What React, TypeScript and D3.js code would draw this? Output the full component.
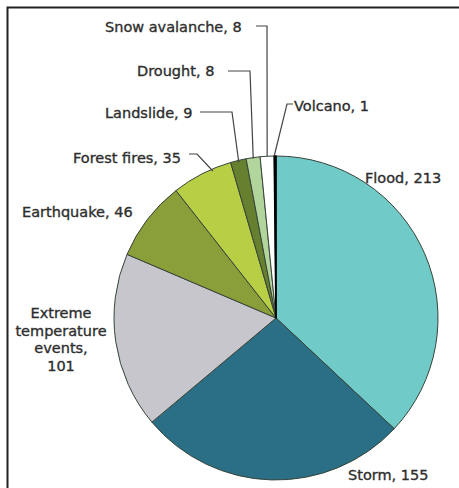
import React from "react";
import * as d3 from "d3";

const categories = ["Flood", "Storm", "Extreme temperature events", "Earthquake", "Forest fires", "Landslide", "Drought", "Snow avalanche", "Volcano"];
const values = [213, 155, 101, 46, 35, 9, 8, 8, 1];
const colors = ["#70cac8", "#2a6f85", "#c6c6cc", "#8a9e3a", "#b8cf45", "#66802f", "#b2d59b", "#ffffff", "#111111"];

// label layout: text lines, anchor position, leader line (elbow points) and slice attach fraction
type Lbl = { lines: string[]; x: number; y: number; anchor: string; leader?: { pts: [number, number][]; frac: number; r: number } };
const labelLayout: Lbl[] = [
  { lines: ["Flood, 213"], x: 365, y: 178, anchor: "start" },
  { lines: ["Storm, 155"], x: 348, y: 475, anchor: "start" },
  { lines: ["Extreme", "temperature", "events,", "101"], x: 61, y: 313, anchor: "middle" },
  { lines: ["Earthquake, 46"], x: 22, y: 212, anchor: "start" },
  { lines: ["Forest fires, 35"], x: 73, y: 158, anchor: "start", leader: { pts: [[189, 154], [197, 154]], frac: 0.68, r: 160 } },
  { lines: ["Landslide, 9"], x: 105, y: 113, anchor: "start", leader: { pts: [[200, 112], [232, 112]], frac: 0.5, r: 160 } },
  { lines: ["Drought, 8"], x: 137, y: 71, anchor: "start", leader: { pts: [[228, 71], [250, 71]], frac: 0.5, r: 161 } },
  { lines: ["Snow avalanche, 8"], x: 105, y: 27, anchor: "start", leader: { pts: [[256, 26], [267, 26]], frac: 0.5, r: 162 } },
  { lines: ["Volcano, 1"], x: 294, y: 106, anchor: "start", leader: { pts: [[293, 104], [287, 104]], frac: 0.0, r: 162 } },
];

const W = 459;
const H = 488;
const cx = 276;
const cy = 318;
const R = 162;

export default function App() {
  const pie = d3.pie<number>().sort(null).value((d) => d);
  const arcs = pie(values);
  const arc = d3.arc<d3.PieArcDatum<number>>().innerRadius(0).outerRadius(R);

  return (
    <svg width={W} height={H} style={{ position: "absolute", left: 0, top: 0 }} fontFamily="DejaVu Sans" fontSize={14.5}>
      <rect x={0} y={0} width={W} height={H} fill="#fff" />
      <path d={`M7.5,${H} V7.5 H${W}`} fill="none" stroke="#222" strokeWidth={2} />
      <g transform={`translate(${cx},${cy})`}>
        {arcs.map((a, i) => (
          <path key={i} d={arc(a) || ""} fill={colors[i]} stroke={i === 8 ? "#000" : "#37443a"} strokeWidth={i === 8 ? 1.6 : 1} strokeLinejoin="round" />
        ))}
      </g>
      {labelLayout.map((l, i) => {
        let leader = null;
        if (l.leader) {
          const a = arcs[i];
          const ang = a.startAngle + (a.endAngle - a.startAngle) * l.leader.frac;
          const ex = cx + l.leader.r * Math.sin(ang);
          const ey = cy - l.leader.r * Math.cos(ang);
          const pts = [...l.leader.pts, [ex, ey]];
          leader = <polyline points={pts.map((p) => p.join(",")).join(" ")} fill="none" stroke="#444" strokeWidth={1.2} />;
        }
        return (
          <g key={i}>
            {leader}
            <text x={l.x} y={l.y} textAnchor={l.anchor} fill="#2e2e2e" stroke="#2e2e2e" strokeWidth={0.35}>
              {l.lines.map((t, j) => (
                <tspan key={j} x={l.x} y={l.y + j * 17.7} dy="0.35em">{t}</tspan>
              ))}
            </text>
          </g>
        );
      })}
    </svg>
  );
}
